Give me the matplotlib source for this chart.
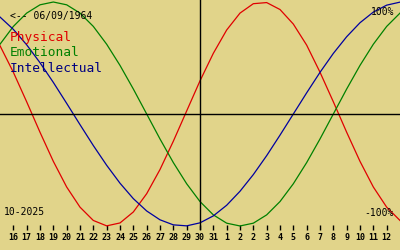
import matplotlib
matplotlib.use("Agg")
import matplotlib.pyplot as plt
import numpy as np

# biorhythm, days 15-10 .. 13-11 (first and last are off the tick range)
day_labels = ['16', '17', '18', '19', '20', '21', '22', '23', '24', '25', '26',
              '27', '28', '29', '30', '31', '1', '2', '2', '3', '4', '5', '6',
              '7', '8', '9', '10', '11', '12']

physical = [61.0, 37.3, 10.9, -16.3, -42.3, -65.2, -83.2, -95.1, -99.9, -97.3,
            -87.5, -71.2, -49.6, -24.3, 2.7, 29.6, 54.2, 75.0, 90.1, 98.5,
            99.5, 93.3, 80.3, 61.5, 37.3, 10.9, -16.3, -42.3, -65.2, -83.2, -95.1]
emotional = [62.3, 78.2, 90.1, 97.5, 100, 97.5, 90.1, 78.2, 62.3, 43.4,
             22.3, 0, -22.3, -43.4, -62.3, -78.2, -90.1, -97.5, -100, -97.5,
             -90.1, -78.2, -62.3, -43.4, -22.3, 0, 22.3, 43.4, 62.3, 78.2, 90.1]
intellectual = [86.6, 75.6, 61.8, 45.8, 28.2, 9.5, -9.5, -28.2, -45.8, -61.8,
                -75.6, -86.6, -94.5, -99.0, -99.9, -97.2, -91.0, -81.5, -69.0,
                -54.1, -37.2, -18.9, 0, 18.9, 37.2, 54.1, 69.0, 81.5, 91.0, 97.2, 99.9]

birth = '06/09/1964'
month = '10-2025'
today_idx = 14

bg = '#e1d48a'
mono = 'DejaVu Sans Mono'

fig = plt.figure(figsize=(4, 2.5), dpi=100, facecolor=bg)
ax = fig.add_axes([0, 20 / 250, 1, 230 / 250])
ax.set_facecolor(bg)

x = np.arange(len(physical)) - 1
ax.plot(x, physical, color='#e00000', lw=0.9)
ax.plot(x, emotional, color='#008000', lw=0.9)
ax.plot(x, intellectual, color='#0000a0', lw=0.9)

ax.axhline(0, color='black', lw=1)
ax.axvline(today_idx, color='black', lw=1)

ax.set_xlim(-1, 29)
ax.set_ylim(-103.6, 101.8)
for s in ax.spines.values():
    s.set_visible(False)
ax.set_yticks([])
ax.set_xticks(np.arange(len(day_labels)))
ax.set_xticklabels(day_labels, fontfamily=mono, fontweight='bold', fontsize=6)
ax.tick_params(axis='x', direction='in', length=3.6, width=1, color='black', pad=2.5)

ax.text(10 / 400, 1 - 16 / 230, '<-- ' + birth, transform=ax.transAxes,
        fontfamily=mono, fontsize=7, va='center', ha='left')
ax.text(10 / 400, 1 - 38 / 230, 'Physical', transform=ax.transAxes,
        fontfamily=mono, fontsize=9.3, color='#e00000', va='center')
ax.text(10 / 400, 1 - 53 / 230, 'Emotional', transform=ax.transAxes,
        fontfamily=mono, fontsize=9.3, color='#008000', va='center')
ax.text(10 / 400, 1 - 68 / 230, 'Intellectual', transform=ax.transAxes,
        fontfamily=mono, fontsize=9.3, color='#000080', va='center')
ax.text(4 / 400, 1 - 212 / 230, month, transform=ax.transAxes,
        fontfamily=mono, fontsize=7, va='center')
ax.text(394 / 400, 1 - 12 / 230, '100%', transform=ax.transAxes,
        fontfamily=mono, fontsize=7, va='center', ha='right')
ax.text(394 / 400, 1 - 213 / 230, '-100%', transform=ax.transAxes,
        fontfamily=mono, fontsize=7, va='center', ha='right')

fig.savefig('out.png', dpi=100, facecolor=bg)
